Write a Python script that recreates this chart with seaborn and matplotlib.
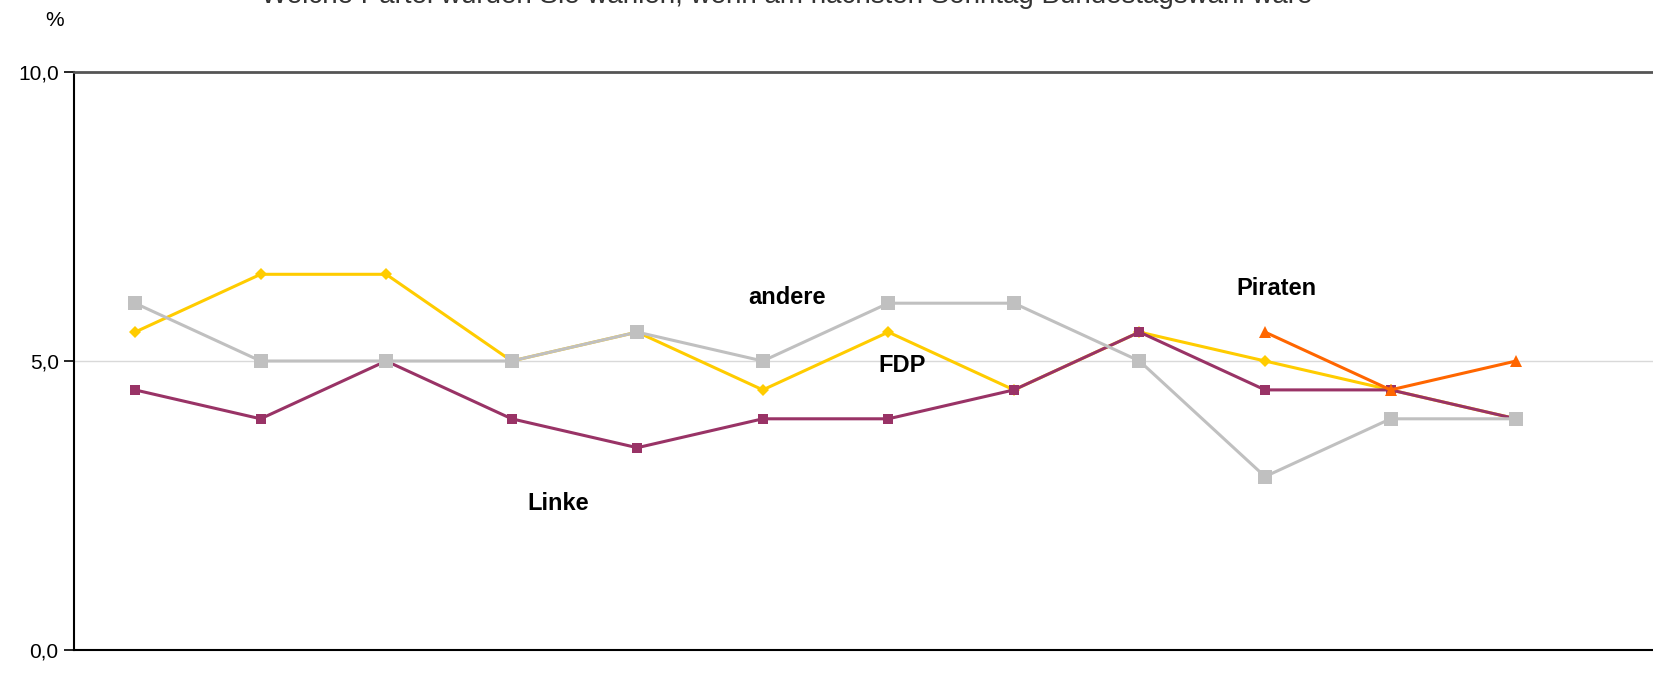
import numpy as np
import pandas as pd
import seaborn as sns
import matplotlib.pyplot as plt
from matplotlib.ticker import FixedLocator, FixedFormatter

# survey waves (no labels shown on the x axis)
waves = list(range(12))

fdp = [5.5, 6.5, 6.5, 5.0, 5.5, 4.5, 5.5, 4.5, 5.5, 5.0, 4.5, 4.0]
linke = [4.5, 4.0, 5.0, 4.0, 3.5, 4.0, 4.0, 4.5, 5.5, 4.5, 4.5, 4.0]
andere = [6.0, 5.0, 5.0, 5.0, 5.5, 5.0, 6.0, 6.0, 5.0, 3.0, 4.0, 4.0]
piraten = [np.nan] * 9 + [5.5, 4.5, 5.0]

y_ticks = [0, 5, 10]
y_tick_labels = ["0,0", "5,0", "10,0"]

title = "Welche Partei würden Sie wählen, wenn am nächsten Sonntag Bundestagswahl wäre"

sns.set_style("white")
plt.rcParams['font.family'] = ['Liberation Sans', 'DejaVu Sans']
plt.rcParams['text.color'] = 'black'
plt.rcParams['ytick.color'] = 'black'
plt.rcParams['ytick.labelcolor'] = 'black'

fig = plt.figure(figsize=(16.53, 6.98), dpi=100)
ax = fig.add_axes([74 / 1653, 48 / 698, 1 - 74 / 1653, 578 / 698])

# ---------------------------------------
# lines, drawn in the stacking order of the original
# ---------------------------------------
series = [
    ("FDP", fdp, "#FFCC00", "D", 6.5),
    ("Linke", linke, "#993366", "s", 6.5),
    ("andere", andere, "#C0C0C0", "s", 10),
    ("Piraten", piraten, "#FF6600", "^", 8),
]
for name, vals, col, mk, ms in series:
    df = pd.DataFrame({"welle": waves, "wert": vals}).dropna()
    sns.lineplot(data=df, x="welle", y="wert", ax=ax, color=col, marker=mk,
                 markersize=ms, markeredgewidth=0, linewidth=2.2, label=None)

# series labels inside the plot
ax.text(5.19, 6.09, "andere", fontsize=17, fontweight="bold", ha="center", va="center")
ax.text(6.11, 4.93, "FDP", fontsize=17, fontweight="bold", ha="center", va="center")
ax.text(3.37, 2.54, "Linke", fontsize=17, fontweight="bold", ha="center", va="center")
ax.text(9.09, 6.26, "Piraten", fontsize=17, fontweight="bold", ha="center", va="center")

# ---------------------------------------
# axes styling
# ---------------------------------------
ax.set_xlim(-0.486, 12.09)
ax.set_ylim(0, 10)
ax.yaxis.set_major_locator(FixedLocator(y_ticks))
ax.yaxis.set_major_formatter(FixedFormatter(y_tick_labels))
ax.set_xticks([])
ax.set_xlabel("")
ax.set_ylabel("")
ax.axhline(5, color="#D9D9D9", linewidth=1, zorder=0)

ax.tick_params(axis="y", which="major", direction="out", length=7, width=1.2,
               color="black", labelcolor="black", labelsize=15, pad=4, left=True)
for side in ["left", "bottom"]:
    ax.spines[side].set_color("black")
    ax.spines[side].set_linewidth(1.5)
ax.spines["top"].set_color("#555555")
ax.spines["top"].set_linewidth(2)
ax.spines["right"].set_visible(False)
if ax.get_legend():
    ax.get_legend().remove()

fig.text(55 / 1653, 1 - 20 / 698, "%", fontsize=15, ha="center", va="center")
# title sits mostly above the top edge, as in the original crop
fig.text(787 / 1653, 1 - 3 / 698, title, fontsize=20, ha="center", va="baseline",
         color="#333333")

fig.savefig("out.png", dpi=100)
